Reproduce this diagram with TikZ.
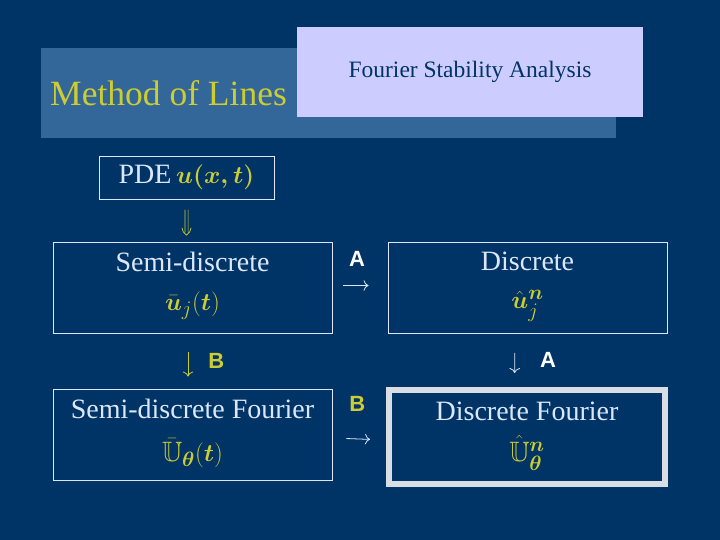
\documentclass[tikz,border=0pt]{standalone}
\usepackage{amsmath,amssymb}
\usepackage{fontspec}
\setmainfont{Liberation Serif}
\newfontfamily\opfont{Liberation Sans}
\usetikzlibrary{arrows.meta}
\definecolor{bgblue}{RGB}{0,51,102}
\definecolor{bandblue}{RGB}{51,102,153}
\definecolor{lavender}{RGB}{204,204,255}
\definecolor{mustard}{RGB}{204,204,51}
\definecolor{paleblue}{RGB}{220,232,250}
\definecolor{framegray}{RGB}{217,222,228}
\tikzstyle{stage}=[draw=paleblue,line width=0.9pt,minimum width=279pt,minimum height=91pt,inner sep=0pt]
\tikzstyle{heading}=[text=paleblue,inner sep=0pt,font=\fontsize{28}{33}\selectfont]
\tikzstyle{formula}=[text=mustard,inner sep=0pt,font=\fontsize{28}{33}\selectfont]
\tikzstyle{opname}=[inner sep=0pt,font=\opfont\bfseries\fontsize{22}{22}\selectfont]
\tikzstyle{maparrow}=[draw=paleblue,line width=0.8pt,-{To[scale=1.5]}]

\begin{document}
\begin{tikzpicture}[x=1pt,y=-1pt]
    \useasboundingbox[fill=bgblue] (0,0) rectangle (720,540);
    % title banners
    \node[fill=bandblue,minimum width=575pt,minimum height=90pt,inner sep=0pt] (band) at (328.5,93) {};
    \node[text=mustard,anchor=west,inner sep=0pt,font=\fontsize{35.5}{40}\selectfont] (mol) at (50,93) {Method of Lines};
    \node[fill=lavender,text=bgblue,minimum width=346pt,minimum height=90pt,inner sep=0pt,font=\fontsize{23.5}{28}\selectfont] (fsa) at (470,72) {Fourier Stability Analysis};
    % the PDE
    \node[draw=paleblue,line width=0.9pt,minimum width=175pt,minimum height=43pt,inner sep=0pt,text=paleblue,font=\fontsize{28}{32}\selectfont] (pde) at (186.5,177.5)
        {PDE\,{\color{mustard}$\boldsymbol{u(x,t)}$}};
    % the four stages
    \foreach \name/\pos/\head/\form in {semidisc/{(192.5,287.5)}/Semi-discrete/{\bar{\boldsymbol u}_j(\boldsymbol t)},
        disc/{(527.5,287.5)}/Discrete/{\hat{\boldsymbol u}^{\boldsymbol n}_j},
        semifour/{(192.5,435)}/Semi-discrete Fourier/{\bar{\mathbb U}_{\boldsymbol\theta}(\boldsymbol t)}}
    {
        \node[stage] (\name) at \pos {};
        \node[heading] (\name-head) at ([yshift=26pt]\name.center) {\head};
        \node[formula] (\name-form) at ([yshift=-18pt]\name.center) {$\form$};
    }
    \node[stage,draw=framegray,line width=6pt,minimum width=276pt,minimum height=94pt] (discfour) at (527,437) {};
    \node[heading] (discfour-head) at ([yshift=26pt]discfour.center) {Discrete Fourier};
    \node[formula] (discfour-form) at ([yshift=-16pt]discfour.center) {$\hat{\mathbb U}^{\boldsymbol n}_{\boldsymbol\theta}$};
    % the maps between them
    \path (pde.south) ++(0,10.5) coordinate (ddtop)
          (pde.south |- semidisc.north) ++(0,-6.5) coordinate (ddtip);
    \draw[mustard,line width=0.7pt,line cap=round]
        ([xshift=-1.6pt]ddtop) -- ([xshift=-1.6pt,yshift=3pt]ddtip)
        ([xshift=1.6pt]ddtop) -- ([xshift=1.6pt,yshift=3pt]ddtip)
        ([xshift=-4.5pt,yshift=7pt]ddtip) to[bend right=25] (ddtip) to[bend right=25] ([xshift=4.5pt,yshift=7pt]ddtip);
    \draw[maparrow,shorten <=11pt,shorten >=19pt] ([yshift=2pt]semidisc.east) -- ([yshift=2pt]disc.west)
        node[opname,text=white,midway,above=19pt,xshift=-3pt] (mapA) {A};
    \draw[maparrow,shorten <=14pt,shorten >=16pt] ([yshift=-3pt]semifour.east) -- ([yshift=-3pt]discfour.west)
        node[opname,text=mustard,midway,above=27pt,xshift=-2pt] (mapB) {B};
    \draw[maparrow,draw=mustard,shorten <=18.5pt,shorten >=12.5pt] ([xshift=-4.5pt]semidisc.south) -- ([xshift=-4.5pt]semifour.north)
        node[opname,text=mustard,midway,right=20pt] (downB) {B};
    \draw[maparrow,shorten <=19.5pt,shorten >=14pt] ([xshift=-12.5pt]disc.south) -- ([xshift=-12.5pt]discfour.north)
        node[opname,text=white,midway,right=25pt] (downA) {A};
\end{tikzpicture}
\end{document}
